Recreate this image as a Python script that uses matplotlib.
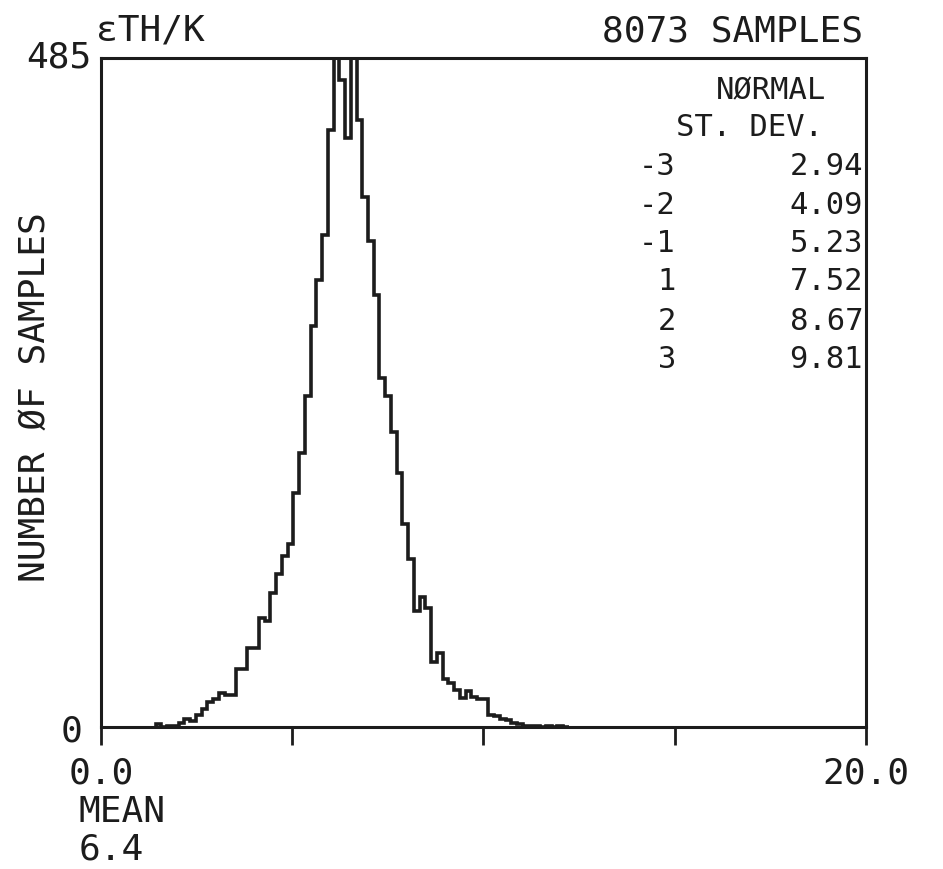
import matplotlib
matplotlib.use("Agg")
import matplotlib.pyplot as plt
import numpy as np

# ---------------- data ----------------
bin_start = 1.43
bin_width = 0.15
counts = [
    2, 0, 1, 1, 3, 6, 4, 9, 13, 18, 20, 25, 23, 23, 42, 42, 57, 57, 79, 77,
    97, 111, 124, 133, 170, 199, 240, 291, 324, 357, 433,
    492, 469, 427, 488, 440, 384, 352, 313, 253, 240, 214, 184, 147, 122, 84, 94, 86,
    47, 54, 35, 32, 27, 21, 26, 22, 20, 20, 9, 8, 6, 5, 3, 2,
    1, 1, 1, 0, 1, 0, 1, 0,
]
x_ticks = [0, 5, 10, 15, 20]
x_tick_labels = ["0.0", "", "", "", "20.0"]
y_max = 485
sd_levels = ["-3", "-2", "-1", "1", "2", "3"]
sd_values = ["2.94", "4.09", "5.23", "7.52", "8.67", "9.81"]
title_left = "\u03b5TH/K"
title_right = "8073 SAMPLES"
y_label = "NUMBER \u00d8F SAMPLES"
mean_label = "MEAN"
mean_value = "6.4"

# ---------------- style ----------------
plt.rcParams["font.family"] = ["DejaVu Sans Mono", "DejaVu Sans"]
INK = "#1c1c1c"
W, H = 943, 869

fig = plt.figure(figsize=(W / 100, H / 100), dpi=100)
fig.patch.set_facecolor("white")


def fx(x):
    return x / W


def fy(y):
    return 1 - y / H


left, right, top, bottom = 101, 866, 58, 727
ax = fig.add_axes([fx(left), fy(bottom), (right - left) / W, (bottom - top) / H])

edges = bin_start + bin_width * np.arange(len(counts) + 1)
ax.stairs(counts, edges, baseline=0, color=INK, linewidth=2.6)

ax.set_xlim(0, 20)
ax.set_ylim(0, y_max)
for s in ax.spines.values():
    s.set_linewidth(2.2)
    s.set_color(INK)

ax.set_xticks(x_ticks)
ax.set_xticklabels(x_tick_labels)
ax.tick_params(axis="x", direction="out", length=13, width=2.0, color=INK,
               pad=8, labelsize=26, labelcolor=INK)
for lbl in ax.get_xticklabels():
    lbl.set_x(lbl.get_position()[0])
ax.set_yticks([])

main_fs = 26
tab_fs = 22

fig.text(fx(96), fy(40), title_left, fontsize=main_fs, color=INK, ha="left", va="baseline")
fig.text(fx(863), fy(41), title_right, fontsize=main_fs, color=INK, ha="right", va="baseline")
fig.text(fx(91), fy(58), str(y_max), fontsize=main_fs, color=INK, ha="right", va="center")
fig.text(fx(82), fy(731), "0", fontsize=main_fs, color=INK, ha="right", va="center")
fig.text(fx(35), fy(397), y_label, fontsize=main_fs, color=INK, ha="center", va="center",
         rotation=90)
fig.text(fx(79), fy(822), mean_label, fontsize=main_fs, color=INK, ha="left", va="baseline")
fig.text(fx(79), fy(860), mean_value, fontsize=main_fs, color=INK, ha="left", va="baseline")

# table of normal standard deviations
fig.text(fx(826), fy(91), "N\u00d8RMAL", fontsize=tab_fs, color=INK, ha="right", va="center")
fig.text(fx(823), fy(128), "ST. DEV.", fontsize=tab_fs, color=INK, ha="right", va="center")
row_y = [166, 205, 243, 282, 321, 359]
for lvl, val, yy in zip(sd_levels, sd_values, row_y):
    fig.text(fx(676), fy(yy), lvl, fontsize=tab_fs, color=INK, ha="right", va="center")
    fig.text(fx(863), fy(yy), val, fontsize=tab_fs, color=INK, ha="right", va="center")

fig.savefig("out.png", dpi=100, facecolor="white")
